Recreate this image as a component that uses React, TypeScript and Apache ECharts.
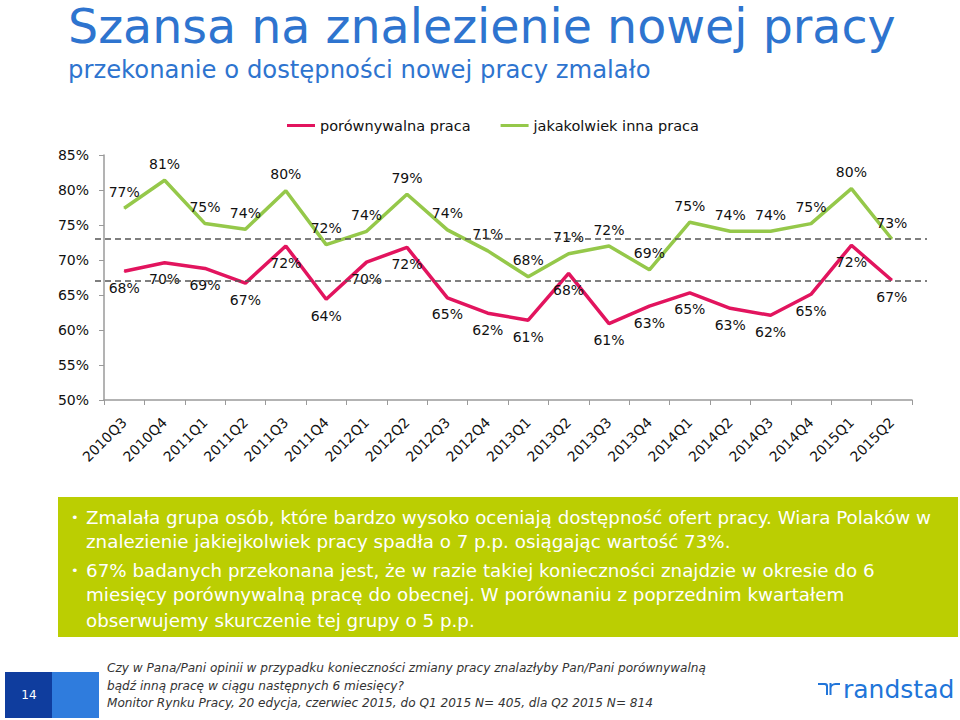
import React, { useEffect, useRef } from "react";
import * as echarts from "echarts";

const categories = [
  "2010Q3", "2010Q4", "2011Q1", "2011Q2", "2011Q3", "2011Q4", "2012Q1", "2012Q2",
  "2012Q3", "2012Q4", "2013Q1", "2013Q2", "2013Q3", "2013Q4", "2014Q1", "2014Q2",
  "2014Q3", "2014Q4", "2015Q1", "2015Q2",
];
const porownywalna = [
  68.4, 69.6, 68.8, 66.7, 72.0, 64.4, 69.7, 71.8, 64.6, 62.4,
  61.4, 68.1, 60.9, 63.4, 65.3, 63.1, 62.1, 65.1, 72.1, 67.1,
];
const jakakolwiek = [
  77.4, 81.4, 75.2, 74.4, 79.9, 72.2, 74.1, 79.4, 74.3, 71.3,
  67.6, 70.9, 72.0, 68.6, 75.4, 74.1, 74.1, 75.2, 80.2, 73.0,
];
const referenceLines = [73, 67];
const seriesNames = ["porównywalna praca", "jakakolwiek inna praca"];

const titleText = "Szansa na znalezienie nowej pracy";
const subtitleText = "przekonanie o dostępności nowej pracy zmalało";
const boxLines = [
  { bullet: true, text: "Zmalała grupa osób, które bardzo wysoko oceniają dostępność ofert pracy. Wiara Polaków w" },
  { bullet: false, text: "znalezienie jakiejkolwiek pracy spadła o 7 p.p. osiągając wartość 73%." },
  { bullet: true, text: "67% badanych przekonana jest, że w razie takiej konieczności znajdzie w okresie do 6" },
  { bullet: false, text: "miesięcy porównywalną pracę do obecnej. W porównaniu z poprzednim kwartałem" },
  { bullet: false, text: "obserwujemy skurczenie tej grupy o 5 p.p." },
];
const footLines = [
  "Czy w Pana/Pani opinii w przypadku konieczności zmiany pracy znalazłyby Pan/Pani porównywalną",
  "bądź inną pracę w ciągu następnych 6 miesięcy?",
  "Monitor Rynku Pracy, 20 edycja, czerwiec 2015, do Q1 2015 N= 405, dla Q2 2015 N= 814",
];
const pageNumber = "14";

const PINK = "#E2145E";
const GREEN = "#95C84A";
const BLUE_TITLE = "#2E74CF";
const BOX_GREEN = "#BBCE02";
const FONT = "DejaVu Sans";

echarts.graphic.registerShape(
  "rsLogo",
  echarts.graphic.extendPath(
    "M0 0 H7 Q10 0 10 3 V12 H8 V3.5 Q8 2 6.5 2 H0 Z M11.5 12 V0 H13.5 V1.6 Q15 0 17.5 0 H22 V2 H17.5 Q13.5 2 13.5 5.5 V12 Z",
    {}
  ) as any
);

export default function App() {
  const ref = useRef<HTMLDivElement>(null);
  useEffect(() => {
    if (!ref.current) return;
    const chart = echarts.init(ref.current, undefined, { renderer: "svg" });

    const labelStyle = (pos: "top" | "bottom") => ({
      show: true,
      position: pos,
      distance: 9,
      fontFamily: FONT,
      fontSize: 14,
      color: "#111",
      formatter: (p: any) => Math.round(p.value) + "%",
    });

    const baseGraphic: any[] = [
      {
        type: "text",
        left: 68,
        top: 2,
        style: { text: titleText, fill: BLUE_TITLE, font: `47.5px "${FONT}"` },
      },
      {
        type: "text",
        left: 68,
        top: 57,
        style: { text: subtitleText, fill: BLUE_TITLE, font: `24.3px "${FONT}"` },
      },
      {
        type: "rect",
        shape: { x: 58, y: 497, width: 900, height: 140 },
        style: { fill: BOX_GREEN },
      },
      ...boxLines.flatMap((l, i) => {
        const y = 517 + [0, 24, 53, 77, 103][i];
        const els: any[] = [
          {
            type: "text",
            x: 86,
            y,
            style: { text: l.text, fill: "#fff", font: `18.3px "${FONT}"`, verticalAlign: "middle" },
          },
        ];
        if (l.bullet)
          els.push({
            type: "text",
            x: 71,
            y,
            style: { text: "•", fill: "#fff", font: `13px "${FONT}"`, verticalAlign: "middle" },
          });
        return els;
      }),
      { type: "rect", shape: { x: 5, y: 672, width: 47, height: 46 }, style: { fill: "#0F3D9E" } },
      { type: "rect", shape: { x: 52, y: 672, width: 47, height: 46 }, style: { fill: "#2F7CDD" } },
      {
        type: "text",
        x: 29,
        y: 695,
        style: { text: pageNumber, fill: "#fff", font: `12px "${FONT}"`, align: "center", verticalAlign: "middle" },
      },
      ...footLines.map((t, i) => ({
        type: "text",
        x: 107,
        y: 668 + i * 17.5,
        style: { text: t, fill: "#333", font: `italic 12.1px "${FONT}"`, verticalAlign: "middle" },
      })),
      {
        type: "rsLogo",
        x: 818,
        y: 683,
        scaleX: 1,
        scaleY: 1,
        style: { fill: "#2175D9" },
      },
      {
        type: "text",
        x: 843,
        y: 689,
        style: { text: "randstad", fill: "#2175D9", font: `25px "${FONT}"`, verticalAlign: "middle" },
      },
    ];

    const option: any = {
      animation: false,
      backgroundColor: "#fff",
      textStyle: { fontFamily: FONT },
      grid: { left: 104, right: 48, top: 155, bottom: 320, containLabel: false },
      legend: {
        top: 113,
        left: 282,
        itemWidth: 28,
        itemHeight: 3,
        itemGap: 30,
        icon: "rect",
        textStyle: { fontFamily: FONT, fontSize: 14.5, color: "#111" },
        data: seriesNames,
      },
      xAxis: {
        type: "category",
        data: categories,
        boundaryGap: true,
        axisLine: { lineStyle: { color: "#9A9A9A", width: 1.5 } },
        axisTick: { show: true, length: 5, lineStyle: { color: "#9A9A9A" } },
        axisLabel: { rotate: 45, fontFamily: FONT, fontSize: 14, color: "#111", margin: 20, interval: 0 },
      },
      yAxis: {
        type: "value",
        min: 50,
        max: 85,
        interval: 5,
        axisLine: { show: true, lineStyle: { color: "#9A9A9A", width: 1.5 } },
        axisTick: { show: true, length: 5, lineStyle: { color: "#9A9A9A" } },
        splitLine: { show: false },
        axisLabel: { formatter: "{value}%", fontFamily: FONT, fontSize: 14, color: "#111", margin: 15 },
      },
      series: [
        {
          name: seriesNames[0],
          type: "line",
          data: porownywalna,
          symbol: "circle",
          symbolSize: 1,
          showSymbol: true,
          lineStyle: { color: PINK, width: 3.5 },
          itemStyle: { color: PINK },
          label: labelStyle("bottom"),
          z: 3,
        },
        {
          name: seriesNames[1],
          type: "line",
          data: jakakolwiek,
          symbol: "circle",
          symbolSize: 1,
          showSymbol: true,
          lineStyle: { color: GREEN, width: 3.5 },
          itemStyle: { color: GREEN },
          label: labelStyle("top"),
          z: 3,
        },
      ],
      graphic: baseGraphic,
    };
    chart.setOption(option);

    const dashed = referenceLines.map((v) => {
      const y = chart.convertToPixel({ yAxisIndex: 0 }, v) as number;
      return {
        type: "line",
        z: 10,
        shape: { x1: 95, y1: y, x2: 927, y2: y },
        style: { stroke: "#555", lineWidth: 1.5, lineDash: [6, 4] },
      };
    });
    chart.setOption({ graphic: [...baseGraphic, ...dashed] });

    return () => chart.dispose();
  }, []);
  return (
    <div
      ref={ref}
      style={{ position: "absolute", left: 0, top: 0, width: 960, height: 720 }}
    />
  );
}
